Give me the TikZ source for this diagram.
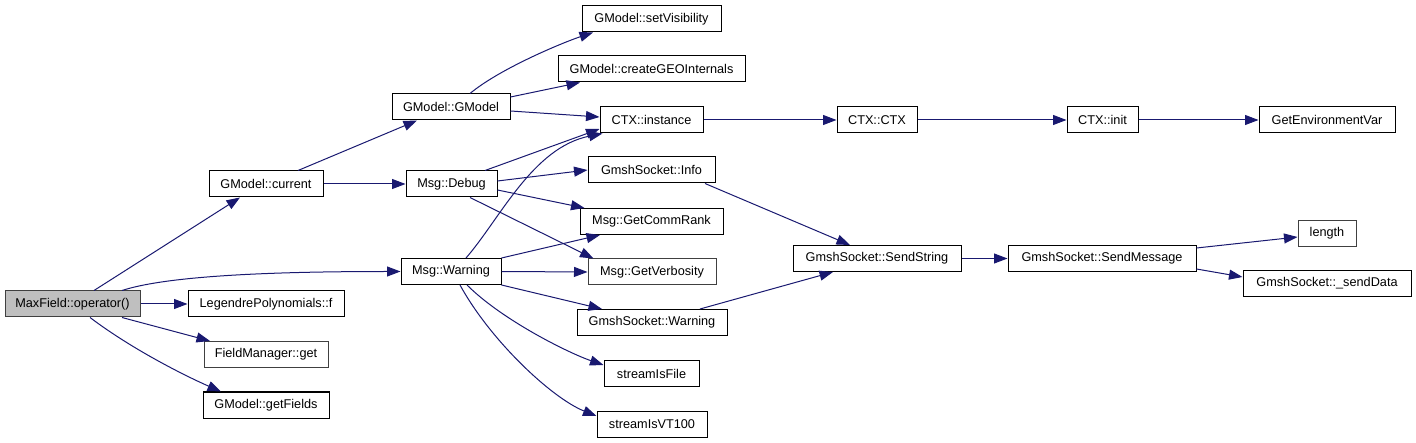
\documentclass[tikz,border=0pt]{standalone}
\usepackage{fontspec}
\setmainfont{Liberation Sans}
\usetikzlibrary{arrows.meta}
\definecolor{edgeblue}{HTML}{191970}
\definecolor{boxgray}{HTML}{404040}
\definecolor{fillgray}{HTML}{BFBFBF}
\begin{document}
\begin{tikzpicture}[x=1pt,y=-1pt,
  fn/.style={draw=black,line width=1pt,fill=white,minimum height=26pt,inner sep=0pt,
    font=\fontsize{12.7}{14}\selectfont},
  fng/.style={fn,draw=boxgray},
  e/.style={draw=edgeblue,line width=1pt,-{Triangle[length=13.5pt,width=10pt]}}]
\useasboundingbox (0,0) rectangle (1416,443);

% nodes
\node[fng,fill=fillgray,minimum width=135pt] (mf) at (72.5,304) {MaxField::operator()};
\node[fn,minimum width=114pt] (cur) at (266,184) {GModel::current};
\node[fn,minimum width=156pt] (leg) at (266,304) {LegendrePolynomials::f};
\node[fng,minimum width=124pt] (fmg) at (266,354.5) {FieldManager::get};
\node[fn,minimum width=126pt] (gf) at (266,405) {GModel::getFields};
\node[fn,minimum width=118pt] (gm) at (451,107) {GModel::GModel};
\node[fn,minimum width=91pt] (dbg) at (451.5,184) {Msg::Debug};
\node[fn,minimum width=100pt] (warn) at (451,271.5) {Msg::Warning};
\node[fn,minimum width=139pt] (vis) at (651.5,19) {GModel::setVisibility};
\node[fn,minimum width=187pt] (geo) at (651.5,69) {GModel::createGEOInternals};
\node[fn,minimum width=103pt] (ins) at (651.5,120) {CTX::instance};
\node[fn,minimum width=127pt] (info) at (651.5,170) {GmshSocket::Info};
\node[fn,minimum width=143pt] (rank) at (651.5,221.5) {Msg::GetCommRank};
\node[fng,minimum width=128pt] (verb) at (652,272) {Msg::GetVerbosity};
\node[fn,minimum width=150pt] (gsw) at (652,322.5) {GmshSocket::Warning};
\node[fn,minimum width=95pt] (sif) at (651.5,373.5) {streamIsFile};
\node[fn,minimum width=110pt] (svt) at (652,424) {streamIsVT100};
\node[fn,minimum width=80pt] (ctx) at (877,120) {CTX::CTX};
\node[fn,minimum width=71pt] (init) at (1102.5,120) {CTX::init};
\node[fn,minimum width=136pt] (env) at (1327,120) {GetEnvironmentVar};
\node[fn,minimum width=168pt] (ss) at (877,258.5) {GmshSocket::SendString};
\node[fn,minimum width=188pt] (sm) at (1102,258.5) {GmshSocket::SendMessage};
\node[fng,minimum width=58pt] (len) at (1327,233.5) {length};
\node[fn,minimum width=168pt] (sd) at (1327,283.5) {GmshSocket::\_sendData};

% edges from MaxField::operator()
\draw[e] ([xshift=21.5pt]mf.north) -- ([xshift=-26pt]cur.south);
\draw[e] ([xshift=49.5pt]mf.north) .. controls +(40,-13) and +(-150,0) .. (warn.west);
\draw[e] (mf.east) -- (leg.west);
\draw[e] ([xshift=49.5pt]mf.south) -- ([xshift=-56pt]fmg.north);
\draw[e] ([xshift=17.5pt]mf.south) .. controls +(45,34) and +(-30,-13) .. ([xshift=-45pt]gf.north);

% GModel::current
\draw[e] ([xshift=32pt]cur.north) -- ([xshift=-34pt]gm.south);
\draw[e] (cur.east) -- (dbg.west);

% GModel::GModel
\draw[e] ([xshift=19pt]gm.north) .. controls +(30,-25) and +(-30,10) .. ([xshift=-58.5pt]vis.south);
\draw[e] ([yshift=10pt]gm.east) -- ([xshift=-71.5pt]geo.south);
\draw[e] ([yshift=-4pt]gm.east) -- ([yshift=3pt]ins.west);

% Msg::Debug
\draw[e] ([xshift=33.5pt]dbg.north) -- ([yshift=-9pt]ins.west);
\draw[e] ([yshift=3pt]dbg.east) -- (info.west);
\draw[e] ([yshift=-6pt]dbg.east) -- ([xshift=5pt]rank.north west);
\draw[e] ([xshift=18.5pt]dbg.south) -- ([xshift=6pt]verb.north west);

% Msg::Warning
\draw[e] ([xshift=15pt]warn.north) .. controls +(34,-39) and +(-70,14) .. ([xshift=3pt]ins.south west);
\draw[e] (warn.north east) -- ([xshift=-51.5pt]rank.south);
\draw[e] (warn.east) -- (verb.west);
\draw[e] (warn.south east) -- ([xshift=-50pt]gsw.north);
\draw[e] ([xshift=16pt]warn.south) .. controls +(35,35) and +(-35,-12) .. ([yshift=8.5pt]sif.west);
\draw[e] ([xshift=9pt]warn.south) .. controls +(30,55) and +(-45,-18) .. ([yshift=8pt]svt.west);

% CTX chain
\draw[e] (ins.east) -- (ctx.west);
\draw[e] (ctx.east) -- (init.west);
\draw[e] (init.east) -- (env.west);

% sockets
\draw[e] ([xshift=53.5pt]info.south) -- ([xshift=-27pt]ss.north);
\draw[e] ([xshift=48pt]gsw.north) -- ([xshift=-44pt]ss.south);
\draw[e] (ss.east) -- (sm.west);
\draw[e] ([yshift=10.5pt]sm.east) -- ([yshift=-3.5pt]len.west);
\draw[e] ([yshift=-10.5pt]sm.east) -- ([yshift=6.5pt]sd.west);
\end{tikzpicture}
\end{document}
